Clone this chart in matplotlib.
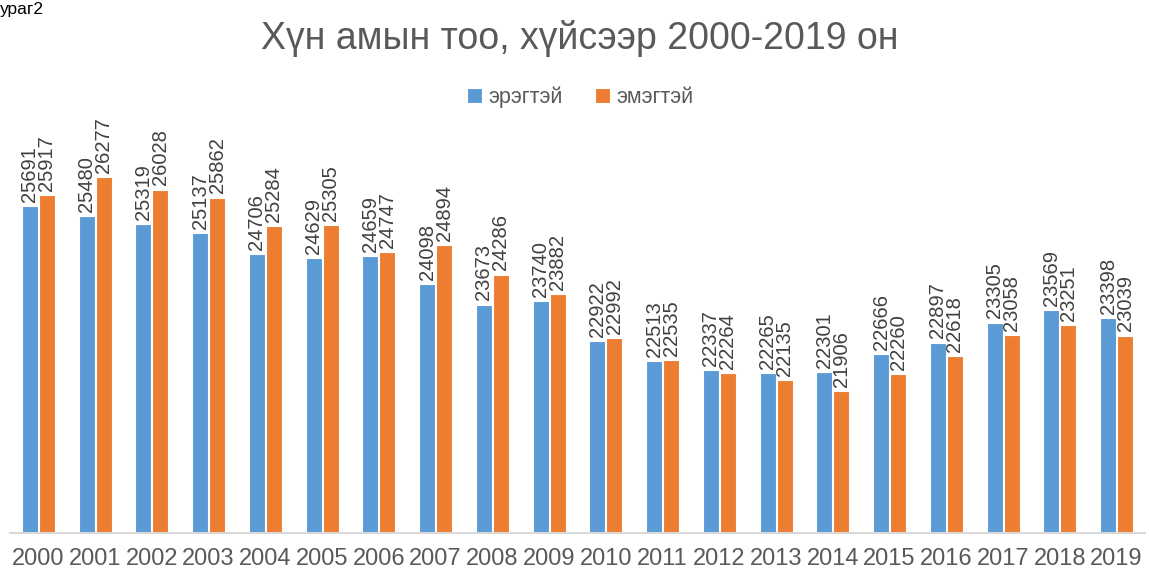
import numpy as np
import matplotlib.pyplot as plt

years = [str(y) for y in range(2000, 2020)]
male = [25691, 25480, 25319, 25137, 24706, 24629, 24659, 24098, 23673, 23740,
        22922, 22513, 22337, 22265, 22301, 22666, 22897, 23305, 23569, 23398]
female = [25917, 26277, 26028, 25862, 25284, 25305, 24747, 24894, 24286, 23882,
          22992, 22535, 22264, 22135, 21906, 22260, 22618, 23058, 23251, 23039]

plt.rcParams['font.family'] = ['Liberation Sans', 'DejaVu Sans']

fig = plt.figure(figsize=(11.49, 5.72), dpi=100)
ax = fig.add_axes([0.0087, 0.0682, 0.9878, 0.6835])

x = np.arange(len(years))
w = 0.28
b1 = ax.bar(x - w / 2 - 0.01, male, w, color='#5B9BD5', edgecolor='white', linewidth=0.8, label='эрэгтэй')
b2 = ax.bar(x + w / 2 + 0.01, female, w, color='#ED7D31', edgecolor='white', linewidth=0.8, label='эмэгтэй')

for bars in (b1, b2):
    for r in bars:
        ax.annotate(str(int(r.get_height())), (r.get_x() + r.get_width() / 2, r.get_height()),
                    xytext=(0, 3), textcoords='offset points', rotation=90,
                    ha='center', va='bottom', fontsize=14.5, color='#404040')

ax.set_xlim(-0.5, len(years) - 0.5)
ax.set_ylim(19000, 27000)
ax.set_xticks(x)
ax.set_xticklabels(years, fontsize=17, color='#595959')
ax.tick_params(axis='x', length=0, pad=11)
ax.set_yticks([])
for s in ['top', 'right', 'left']:
    ax.spines[s].set_visible(False)
ax.spines['bottom'].set_color('#D9D9D9')
ax.spines['bottom'].set_linewidth(1.5)

fig.text(0.505, 0.932, 'Хүн амын тоо, хүйсээр 2000-2019 он', ha='center', va='center',
         fontsize=27, color='#595959')
fig.text(0.0, 0.983, 'ураг2', ha='left', va='center', fontsize=12.5, color='black')

fig.legend(loc='center', bbox_to_anchor=(0.505, 0.83), ncol=2, frameon=False,
           fontsize=15.5, labelcolor='#595959', handlelength=0.7, handleheight=0.7,
           columnspacing=1.5, handletextpad=0.3)

fig.savefig('out.png', dpi=100)
